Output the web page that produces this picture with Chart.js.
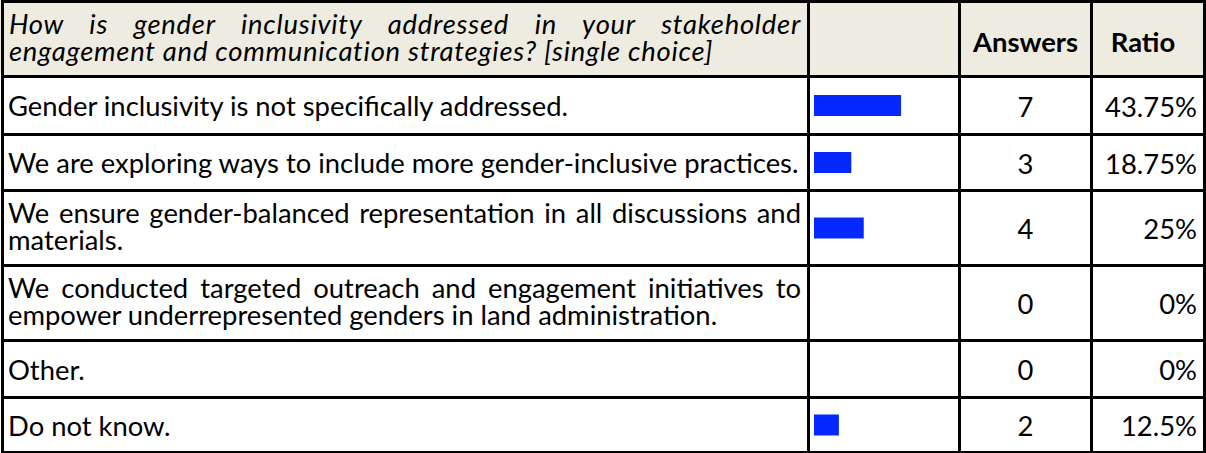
<!DOCTYPE html>
<html>
<head>
<meta charset="utf-8">
<script src="https://cdn.jsdelivr.net/npm/chart.js@4.4.1/dist/chart.umd.min.js"></script>
<style>
html,body{margin:0;padding:0;background:#fff;}
body{width:1206px;height:453px;overflow:hidden;position:relative;font-family:Lato,"Open Sans",sans-serif;color:#000;}
.bg{position:absolute;}
.ln{position:absolute;background:#000;z-index:5;}
.cell{position:absolute;box-sizing:border-box;display:flex;flex-direction:column;justify-content:center;line-height:27px;white-space:nowrap;}
.just{text-align:justify;text-align-last:justify;}
.cv{position:absolute;}
</style>
</head>
<body>
<script>
// ---------- data ----------
const question = [
  'How is gender inclusivity addressed in your stakeholder',
  'engagement and communication strategies? [single choice]'
];
const headers = ['', 'Answers', 'Ratio'];
const categories = [
  ['Gender inclusivity is not specifically addressed.'],
  ['We are exploring ways to include more gender-inclusive practices.'],
  ['We ensure gender-balanced representation in all discussions and', 'materials.'],
  ['We conducted targeted outreach and engagement initiatives to', 'empower underrepresented genders in land administration.'],
  ['Other.'],
  ['Do not know.']
];
const answers = [7, 3, 4, 0, 0, 2];
const ratios = [43.75, 18.75, 25, 0, 0, 12.5];

// ---------- layout / style ----------
const BAR = '#0528ff';
const HEAD_BG = '#eeece1';
const colLines = [1, 807, 958, 1090, 1203];      // left edge of vertical rules
const rowLines = [0, 75, 133, 189, 264, 339, 396, 451]; // top edge of horizontal rules
const LW = 3;

// fit the font size to the reference text width
const mctx = document.createElement('canvas').getContext('2d');
mctx.font = '100px Lato';
const w100 = mctx.measureText(categories[1][0]).width;
const FS = Math.round(100 * 790 / w100 * 10) / 10;
document.body.style.fontSize = FS + 'px';
// italic question: widen with letter spacing so its last line ends where the reference does
mctx.font = 'italic ' + FS + 'px Lato';
const qw = mctx.measureText(question[1]).width;
const QLS = Math.max(0, (704 - qw) / question[1].length);

function el(cls, css, parent) {
  const d = document.createElement('div');
  d.className = cls;
  Object.assign(d.style, css);
  (parent || document.body).appendChild(d);
  return d;
}

// header background
el('bg', {left: '0px', top: '0px', width: '1206px', height: (rowLines[1]) + 'px', background: HEAD_BG});

// rules
rowLines.forEach(y => el('ln', {left: colLines[0] + 'px', top: y + 'px', width: (colLines[4] + LW - colLines[0]) + 'px', height: LW + 'px'}));
colLines.forEach(x => el('ln', {left: x + 'px', top: rowLines[0] + 'px', width: LW + 'px', height: (rowLines[7] + LW - rowLines[0]) + 'px'}));

function cellBox(c, r, padL, padR) {
  const left = colLines[c] + LW, right = colLines[c + 1];
  const top = rowLines[r] + LW, bottom = rowLines[r + 1];
  return {left: left + 'px', top: top + 'px', width: (right - left) + 'px', height: (bottom - top) + 'px',
          paddingLeft: padL + 'px', paddingRight: padR + 'px'};
}

function linesCell(lines, box, italic) {
  const c = el('cell', box);
  if (italic) { c.style.fontStyle = 'italic'; c.style.letterSpacing = QLS.toFixed(2) + 'px'; }
  lines.forEach((t, i) => {
    const d = document.createElement('div');
    d.textContent = t;
    if (i < lines.length - 1) d.className = 'just';
    c.appendChild(d);
  });
  return c;
}

// header row
linesCell(question, Object.assign(cellBox(0, 0, 5, 6), {paddingBottom: '5px'}), true);
const hA = el('cell', Object.assign(cellBox(2, 0, 0, 0), {alignItems: 'center', fontWeight: '700', paddingTop: '4px'}));
hA.textContent = headers[1];
const hR = el('cell', Object.assign(cellBox(3, 0, 0, 10), {alignItems: 'center', fontWeight: '700', paddingTop: '4px'}));
hR.textContent = headers[2];

// body rows
categories.forEach((lines, i) => {
  const r = i + 1;
  linesCell(lines, Object.assign(cellBox(0, r, 4, 6), {paddingBottom: lines.length > 1 ? '4px' : '0px'}), false);
  const a = el('cell', Object.assign(cellBox(2, r, 0, 0), {alignItems: 'center', paddingTop: '1px'}));
  a.textContent = String(answers[i]);
  const q = el('cell', Object.assign(cellBox(3, r, 0, 6), {alignItems: 'flex-end', paddingTop: '1px'}));
  q.textContent = ratios[i] + '%';

  // bar chart for this row
  const left = colLines[1] + LW, right = colLines[2];
  const top = rowLines[r] + LW, bottom = rowLines[r + 1];
  const cv = document.createElement('canvas');
  cv.className = 'cv';
  cv.width = right - left; cv.height = bottom - top;
  Object.assign(cv.style, {left: left + 'px', top: top + 'px', width: (right - left) + 'px', height: (bottom - top) + 'px'});
  document.body.appendChild(cv);
  new Chart(cv, {
    type: 'bar',
    data: {
      labels: [lines.join(' ')],
      datasets: [{data: [ratios[i]], backgroundColor: BAR, borderWidth: 0, barThickness: 21, inflateAmount: 0}]
    },
    options: {
      indexAxis: 'y',
      responsive: false,
      maintainAspectRatio: false,
      devicePixelRatio: 1,
      animation: false,
      events: [],
      layout: {padding: {left: 4, right: (right - left) - 4 - 99.5, top: 0, bottom: 0}},
      scales: {
        x: {type: 'linear', min: 0, max: 50, display: false},
        y: {display: false}
      },
      plugins: {legend: {display: false}, tooltip: {enabled: false}}
    }
  });
});
</script>
</body>
</html>
